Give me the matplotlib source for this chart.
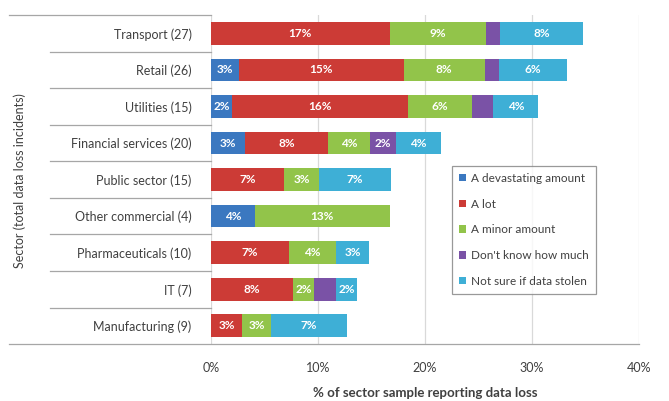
import numpy as np
import matplotlib
matplotlib.use("Agg")
import matplotlib.pyplot as plt
from matplotlib.transforms import blended_transform_factory
from matplotlib.ticker import FuncFormatter

# Sectors listed from top to bottom
sectors = ["Transport (27)", "Retail (26)", "Utilities (15)", "Financial services (20)",
           "Public sector (15)", "Other commercial (4)", "Pharmaceuticals (10)",
           "IT (7)", "Manufacturing (9)"]

series = ["A devastating amount", "A lot", "A minor amount",
          "Don't know how much", "Not sure if data stolen"]

devastating = [0.0, 2.6, 2.0, 3.2, 0.0, 4.1, 0.0, 0.0, 0.0]
a_lot       = [16.7, 15.4, 16.4, 7.7, 6.8, 0.0, 7.3, 7.7, 2.9]
minor       = [9.0, 7.6, 6.0, 4.0, 3.3, 12.6, 4.4, 1.9, 2.7]
dont_know   = [1.3, 1.3, 2.0, 2.4, 0.0, 0.0, 0.0, 2.1, 0.0]
not_sure    = [7.8, 6.4, 4.2, 4.2, 6.7, 0.0, 3.1, 1.9, 7.1]

colors = ["#3b78c0", "#cc3b36", "#92c44a", "#7a52a6", "#3eafd6"]
# smallest segment that still gets a value label, per series
min_label = [1.5, 1.5, 1.5, 2.3, 1.5]

txt = "#404040"
plt.rcParams["font.family"] = ["Lato", "DejaVu Sans"]

fig = plt.figure(figsize=(6.69, 4.01), dpi=100)
ax = fig.add_axes([0.3154, 0.142, 0.6397, 0.8204])

y = np.arange(len(sectors))
left = np.zeros(len(sectors))
for vals, col, name, lim in zip([devastating, a_lot, minor, dont_know, not_sure],
                                colors, series, min_label):
    vals = np.array(vals)
    ax.barh(y, vals, left=left, height=0.62, color=col, label=name, zorder=3)
    for yi, l, v in zip(y, left, vals):
        if v >= lim:
            ax.text(l + v / 2, yi, "%d%%" % round(v), ha="center", va="center",
                    color="white", fontsize=8.5, fontweight="bold", zorder=4)
    left += vals

ax.set_xlim(0, 40)
ax.set_ylim(len(sectors) - 0.5, -0.5)
ax.set_xticks([0, 10, 20, 30, 40])
ax.xaxis.set_major_formatter(FuncFormatter(lambda v, p: "%d%%" % v))
ax.grid(axis="x", color="#d9d9d9", linewidth=0.9, zorder=0)
for s in ax.spines.values():
    s.set_visible(False)
ax.tick_params(axis="x", length=0, pad=13, labelsize=9, labelcolor=txt)
ax.tick_params(axis="y", length=0, pad=14, labelsize=9, labelcolor=txt)
ax.set_yticks(y)
ax.set_yticklabels(sectors)

# separator lines between the category labels
tr = blended_transform_factory(fig.transFigure, ax.transData)
x0 = 9 / 669
x1 = 50 / 669
xa = 211 / 669
ax.plot([x0, xa], [-0.5, -0.5], color="#a6a6a6", lw=0.9, transform=tr, clip_on=False)
for k in range(1, len(sectors)):
    ax.plot([x1, xa], [k - 0.5, k - 0.5], color="#a6a6a6", lw=0.9,
            transform=tr, clip_on=False)
ax.plot([x0, 639 / 669], [len(sectors) - 0.5] * 2, color="#a6a6a6", lw=0.9,
        transform=tr, clip_on=False)

ax.set_xlabel("% of sector sample reporting data loss", fontsize=9.5,
              fontweight="bold", color=txt, labelpad=9)
fig.text(20 / 669, 0.55, "Sector (total data loss incidents)", rotation=90,
         ha="center", va="center", fontsize=9, color=txt)

leg = ax.legend(loc="upper left", bbox_to_anchor=(0.55, 0.56), fontsize=8.5,
                frameon=True, fancybox=False, edgecolor="#808080",
                handlelength=0.6, handleheight=0.6, handletextpad=0.4,
                labelspacing=1.25, borderpad=0.6)
leg.get_frame().set_linewidth(0.9)
for t in leg.get_texts():
    t.set_color(txt)

fig.savefig("out.png", dpi=100)
